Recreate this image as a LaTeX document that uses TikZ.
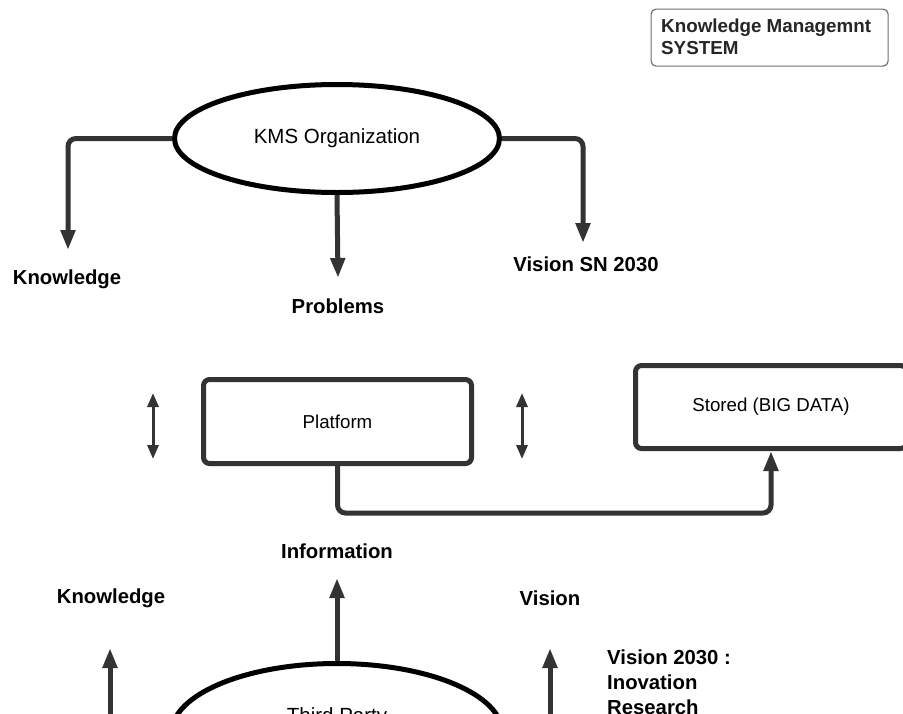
\documentclass[tikz,border=0pt]{standalone}
\usepackage{fontspec}
\setmainfont{Liberation Sans}
\usetikzlibrary{arrows.meta,shapes.geometric}
\definecolor{ink}{HTML}{333333}
\definecolor{frame}{HTML}{707070}
\begin{document}
\begin{tikzpicture}[x=1pt,y=-1pt,
  oval/.style={ellipse,draw=black,line width=5pt,fill=white,inner sep=0pt,
    font=\fontsize{20.5}{24}\selectfont},
  panel/.style={rectangle,draw=ink,line width=5pt,rounded corners=6pt,inner sep=0pt,
    font=\fontsize{18.7}{22}\selectfont},
  tag/.style={font=\bfseries\fontsize{20.3}{24}\selectfont,inner sep=0pt},
  conn/.style={draw=ink,line width=5pt,rounded corners=8pt,
    -{Triangle[width=14pt,length=20pt]}},
  updown/.style={draw=ink,line width=3pt,
    {Triangle[width=11pt,length=14pt]}-{Triangle[width=11pt,length=14pt]}}]
\useasboundingbox (0,0) rectangle (903,713);
\clip (0,0) rectangle (903,713);
\fill[white] (0,0) rectangle (903,713);

% title box
\node[draw=frame,line width=1.2pt,rounded corners=5pt,minimum width=237pt,
  minimum height=57pt,anchor=north west,inner sep=0pt] (title) at (650.5,8.5) {};
\node[tag,anchor=west,align=left,font=\bfseries\fontsize{18.8}{21.5}\selectfont,
  text=black!85] (titletext) at (661,37) {Knowledge Managemnt\\SYSTEM};

% upper part
\node[oval,minimum width=325pt,minimum height=108pt] (kms) at (337,138.5) {KMS Organization};
\node[tag] (know1) at (67,279) {Knowledge};
\node[tag] (prob) at (338,306) {Problems};
\node[tag] (vsn) at (586,264) {Vision SN 2030};
\coordinate (tipK) at (68,250);
\coordinate (tipP) at (338,278);
\coordinate (tipV) at (583,243);
\draw[conn] (kms.west) -| (tipK);
\draw[conn] (kms.south) -- (tipP);
\draw[conn] (kms.east) -| (tipV);

% platform and storage
\node[panel,minimum width=268pt,minimum height=84pt] (plat) at (337.5,421.5) {Platform};
\node[panel,minimum width=271pt,minimum height=83pt] (store) at (771,407) {Stored (BIG DATA)};
\coordinate (bend) at (337.5,513);
\draw[conn] (plat.south) -- (bend) -| (store.south);
\coordinate (ul) at (153,393);
\coordinate (dl) at (153,459);
\coordinate (ur) at (522,393);
\coordinate (dr) at (522,459);
\draw[updown] (ul) -- (dl);
\draw[updown] (ur) -- (dr);

% lower part
\node[oval,minimum width=331pt,minimum height=139pt] (third) at (337,733) {};
\node[font=\fontsize{20.5}{24}\selectfont,inner sep=0pt,anchor=base]
  (thirdtext) at (337,722.5) {Third Party};
\node[tag] (info) at (337,551) {Information};
\node[tag] (know2) at (111,598) {Knowledge};
\node[tag] (vis) at (550,598) {Vision};
\node[tag,anchor=north west,align=left,font=\bfseries\fontsize{20.3}{25}\selectfont]
  (v2030) at (607,650) {Vision 2030 :\\Inovation\\Research};
\coordinate (tipI) at (337,578);
\coordinate (baseL) at (110,720);
\coordinate (tipL) at (110,648);
\coordinate (baseR) at (550,720);
\coordinate (tipR) at (550,648);
\draw[conn] (third.north) -- (tipI);
\draw[conn] (baseL) -- (tipL);
\draw[conn] (baseR) -- (tipR);
\end{tikzpicture}
\end{document}
